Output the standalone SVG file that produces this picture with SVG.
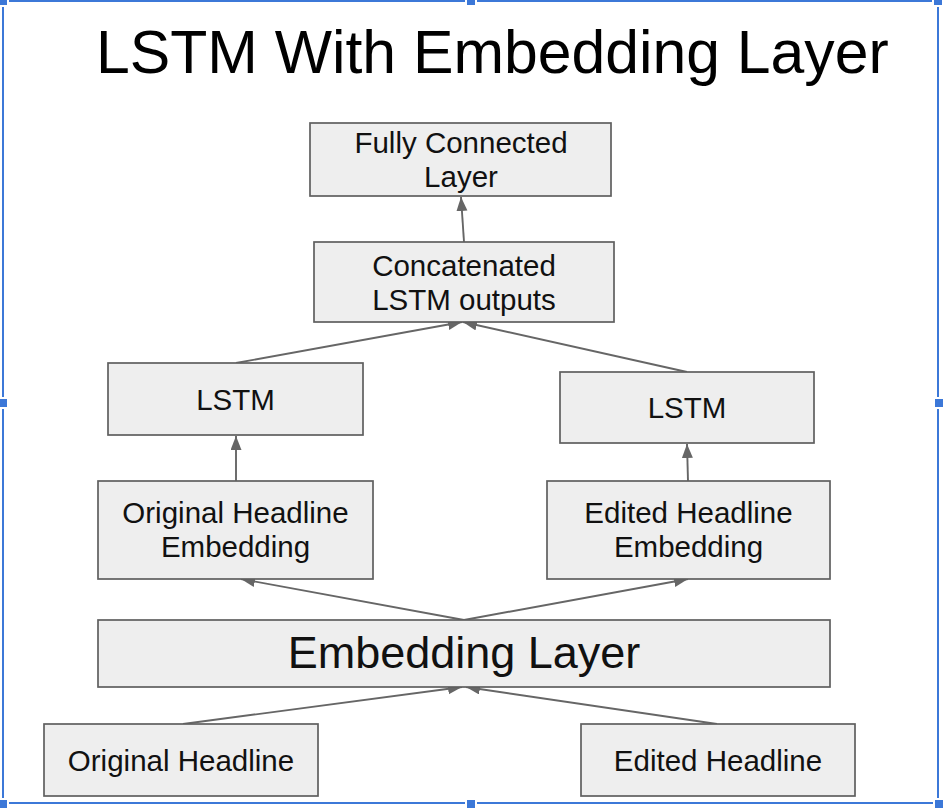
<svg xmlns="http://www.w3.org/2000/svg" width="946" height="812" viewBox="0 0 946 812">
  <style>
    .box { fill: #eeeeee; stroke: #5f5f5f; stroke-width: 1.7; }
    .lbl { font-family: "Liberation Sans", Arial, sans-serif; font-size: 29.5px; fill: #111111; text-anchor: middle; }
    .big { font-size: 45px; }
    .title { font-family: "Liberation Sans", Arial, sans-serif; font-size: 60.7px; fill: #000000; }
    .edge { stroke: #666666; stroke-width: 1.9; fill: none; marker-end: url(#arrow); }
    .sel { stroke: #3c78d8; stroke-width: 2; fill: none; }
    .handle { fill: #3c78d8; stroke: #ffffff; stroke-width: 2; }
  </style>
  <defs>
    <marker id="arrow" markerUnits="userSpaceOnUse" markerWidth="15" markerHeight="12" refX="14" refY="5.5" orient="auto">
      <path d="M0,0 L14,5.5 L0,11 z" fill="#666666"/>
    </marker>
  </defs>

  <rect x="0" y="0" width="946" height="812" fill="#ffffff"/>

  <!-- selection frame around the drawing -->
  <g id="selection">
    <path class="sel" d="M3,1 H938 V803 H3 Z"/>
    <rect class="handle" x="-2" y="-4" width="10" height="10"/>
    <rect class="handle" x="466" y="-4" width="10" height="10"/>
    <rect class="handle" x="933" y="-4" width="10" height="10"/>
    <rect class="handle" x="-2" y="398" width="10" height="10"/>
    <rect class="handle" x="934" y="398" width="10" height="10"/>
    <rect class="handle" x="-2" y="799" width="10" height="10"/>
    <rect class="handle" x="466" y="799" width="10" height="10"/>
    <rect class="handle" x="934" y="799" width="10" height="10"/>
  </g>

  <text class="title" x="96" y="73">LSTM With Embedding Layer</text>

  <g id="connectors">
    <line class="edge" x1="464" y1="242" x2="461" y2="197"/>
    <line class="edge" x1="236" y1="363" x2="462" y2="322"/>
    <line class="edge" x1="687" y1="372" x2="463" y2="322"/>
    <line class="edge" x1="236" y1="481" x2="236" y2="436"/>
    <line class="edge" x1="688" y1="481" x2="687" y2="444"/>
    <line class="edge" x1="464" y1="620" x2="241" y2="579"/>
    <line class="edge" x1="464" y1="620" x2="688" y2="579"/>
    <line class="edge" x1="183" y1="724" x2="462" y2="687"/>
    <line class="edge" x1="717" y1="724" x2="466" y2="687"/>
  </g>

  <g id="fully-connected">
    <rect class="box" x="310" y="123" width="301" height="73"/>
    <text class="lbl" x="461" y="153">Fully Connected</text>
    <text class="lbl" x="461" y="187">Layer</text>
  </g>

  <g id="concatenated">
    <rect class="box" x="314" y="242" width="300" height="80"/>
    <text class="lbl" x="464" y="276">Concatenated</text>
    <text class="lbl" x="464" y="310">LSTM outputs</text>
  </g>

  <g id="lstm-left">
    <rect class="box" x="108" y="363" width="255" height="72"/>
    <text class="lbl" x="235.5" y="410">LSTM</text>
  </g>

  <g id="lstm-right">
    <rect class="box" x="560" y="372" width="254" height="71"/>
    <text class="lbl" x="687" y="418">LSTM</text>
  </g>

  <g id="original-embedding">
    <rect class="box" x="98" y="481" width="275" height="98"/>
    <text class="lbl" x="235.5" y="523">Original Headline</text>
    <text class="lbl" x="235.5" y="557">Embedding</text>
  </g>

  <g id="edited-embedding">
    <rect class="box" x="547" y="481" width="283" height="98"/>
    <text class="lbl" x="688.5" y="523">Edited Headline</text>
    <text class="lbl" x="688.5" y="557">Embedding</text>
  </g>

  <g id="embedding-layer">
    <rect class="box" x="98" y="620" width="732" height="67"/>
    <text class="lbl big" x="464" y="668">Embedding Layer</text>
  </g>

  <g id="original-headline">
    <rect class="box" x="44" y="724" width="274" height="72"/>
    <text class="lbl" x="181" y="771">Original Headline</text>
  </g>

  <g id="edited-headline">
    <rect class="box" x="581" y="724" width="274" height="72"/>
    <text class="lbl" x="718" y="771">Edited Headline</text>
  </g>
</svg>
